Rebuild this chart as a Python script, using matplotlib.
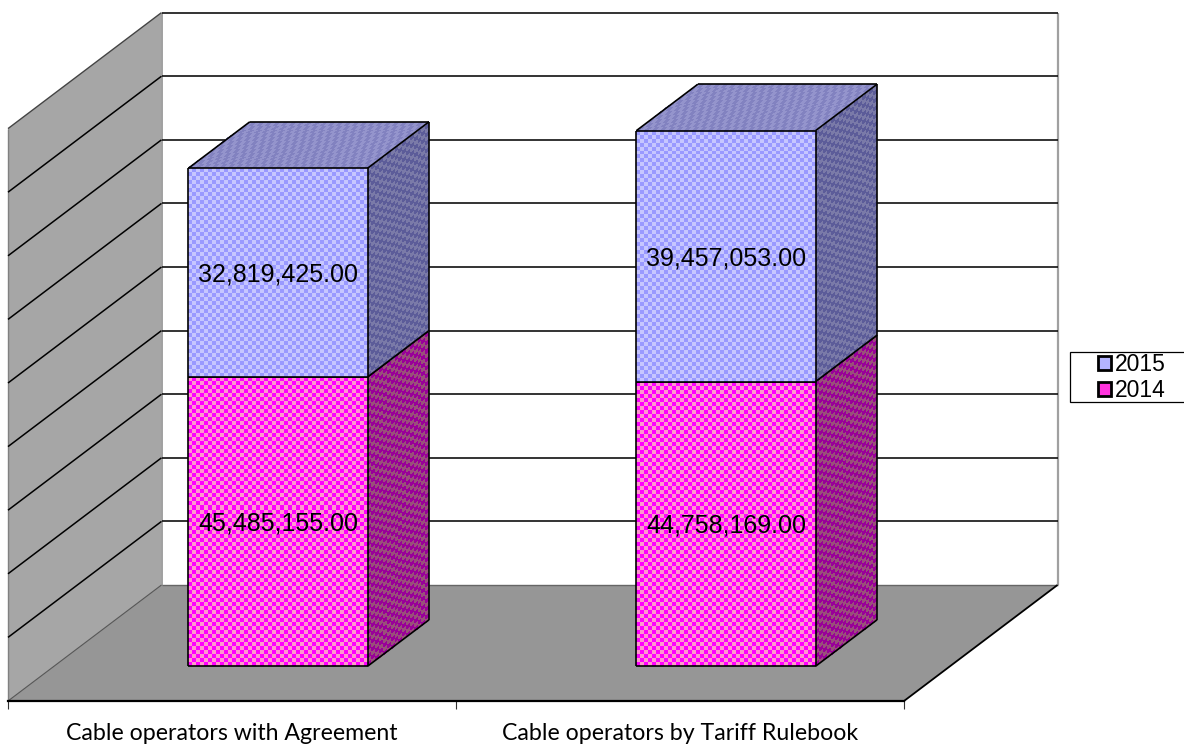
import numpy as np
import matplotlib
matplotlib.use("Agg")
import matplotlib.pyplot as plt
from matplotlib.colors import ListedColormap
from matplotlib.patches import Polygon, Patch, Rectangle

categories = ["Cable operators with Agreement", "Cable operators by Tariff Rulebook"]
years = ["2014", "2015"]
values_2014 = [45485155.0, 44758169.0]
values_2015 = [32819425.0, 39457053.0]
gridlines = [10e6, 20e6, 30e6, 40e6, 50e6, 60e6, 70e6, 80e6, 90e6]

W, H = 1184, 744
L, R, BOT, TOP = 8, 904, 701, 128.6
DX, DY = 153.5, 116.0
YMAX = 90e6
PX_PER_CAT = (R - L) / 2
PX_PER_V = (BOT - TOP) / YMAX

plt.rcParams['font.family'] = ['Liberation Sans', 'DejaVu Sans']
fig = plt.figure(figsize=(W / 100, H / 100), dpi=100, facecolor='white')
ax = fig.add_axes([L / W, (H - BOT) / H, (R - L) / W, (BOT - TOP) / H])
ax.set_xlim(0, 2)
ax.set_ylim(0, YMAX)
ax.patch.set_visible(False)
for s in ('top', 'left', 'right'):
    ax.spines[s].set_visible(False)
ax.spines['bottom'].set_linewidth(1.6)
ax.spines['bottom'].set_zorder(20)
ax.yaxis.set_visible(False)
ax.set_xticks([0, 1, 2])
ax.set_xticklabels([])
ax.tick_params(axis='x', length=6, width=0.8, color='#333333')


def proj(c, v, d):
    """category position, value, depth (0..1) -> axes data coordinates"""
    return c + d * DX / PX_PER_CAT, v + d * DY / PX_PER_V


def poly(pts, **kw):
    xy = [proj(*p) for p in pts]
    ax.add_patch(Polygon(xy, closed=True, clip_on=False, **kw))


def line(p0, p1, **kw):
    a, b = proj(*p0), proj(*p1)
    ax.plot([a[0], b[0]], [a[1], b[1]], clip_on=False, solid_capstyle='butt', **kw)


# walls and floor
poly([(0, 0, 1), (2, 0, 1), (2, YMAX, 1), (0, YMAX, 1)], fc='white', ec='none', zorder=1)
poly([(0, 0, 0), (0, 0, 1), (0, YMAX, 1), (0, YMAX, 0)], fc='#a6a6a6', ec='none', zorder=1)
poly([(0, 0, 0), (2, 0, 0), (2, 0, 1), (0, 0, 1)], fc='#969696', ec='none', zorder=2)
line((0, 0, 1), (0, YMAX, 1), color='#a0a0a0', lw=1.4, zorder=3)
line((0, 0, 0), (0, YMAX, 0), color='#808080', lw=1.0, zorder=3)
line((2, 0, 1), (2, YMAX, 1), color='#a0a0a0', lw=1.6, zorder=3)
line((0, 0, 0), (0, 0, 1), color='#555555', lw=0.8, zorder=3)
line((0, 0, 1), (2, 0, 1), color='#666666', lw=1.0, zorder=3)
line((2, 0, 0), (2, 0, 1), color='black', lw=1.3, zorder=3)
line((0, YMAX, 0), (0, YMAX, 1), color='#444444', lw=1.0, zorder=3)
for g in gridlines:
    line((0, g, 1), (2, g, 1), color='#111111', lw=1.2, zorder=3)
    if g < YMAX:
        line((0, g, 0), (0, g, 1), color='black', lw=1.1, zorder=3)


def checker(corner, du, dv, n_u, n_v, colors, z):
    """Checkered quad: corner + i*du/n_u + j*dv/n_v in (c, v, d) space"""
    X = np.zeros((n_v + 1, n_u + 1))
    Y = np.zeros_like(X)
    for j in range(n_v + 1):
        for i in range(n_u + 1):
            p = [corner[k] + du[k] * i / n_u + dv[k] * j / n_v for k in range(3)]
            X[j, i], Y[j, i] = proj(*p)
    C = np.indices((n_v, n_u)).sum(axis=0) % 2
    ax.pcolormesh(X, Y, C, cmap=ListedColormap(colors), shading='flat',
                  antialiased=False, clip_on=False, zorder=z, vmin=0, vmax=1)


BAR_W = 0.4
D0, D1 = 0.3, 0.7
FACE = {
    "2014": dict(front=['#ff00ff', '#ff99cc'], side=['#990099', '#99507a'], top=['#a050a0', '#a060a0']),
    "2015": dict(front=['#9999ff', '#c6c6ff'], side=['#5c5c99', '#7a7aa8'], top=['#8282c0', '#9494cc']),
}


def bar_px_cells(v):
    return max(2, int(round(v * PX_PER_V / 4)))


def draw_bar(i, base, val, year, z):
    c0 = i + 0.5 - BAR_W / 2
    c1 = c0 + BAR_W
    t = base + val
    w_cells = int(round(BAR_W * PX_PER_CAT / 4))
    n_v = bar_px_cells(val)
    f = FACE[year]
    dd = D1 - D0
    # front
    checker((c0, base, D0), (BAR_W, 0, 0), (0, val, 0), w_cells, n_v, f['front'], z)
    # side
    checker((c1, base, D0), (0, 0, dd), (0, val, 0), 16, n_v, f['side'], z)
    # top
    checker((c0, t, D0), (BAR_W, 0, 0), (0, 0, dd), w_cells, 12, f['top'], z)
    ek = dict(color='black', lw=1.2, zorder=z + 1)
    for a, b in [((c0, base, D0), (c1, base, D0)), ((c1, base, D0), (c1, t, D0)),
                 ((c1, t, D0), (c0, t, D0)), ((c0, t, D0), (c0, base, D0)),
                 ((c1, base, D0), (c1, base, D1)), ((c1, base, D1), (c1, t, D1)),
                 ((c1, t, D0), (c1, t, D1)), ((c0, t, D0), (c0, t, D1)),
                 ((c0, t, D1), (c1, t, D1))]:
        line(a, b, **ek)
    cx, cy = proj((c0 + c1) / 2, base + val / 2, D0)
    ax.annotate(f"{val:,.2f}", xy=(cx, cy), xytext=(0, -2), textcoords='offset pixels',
                ha='center', va='center', fontsize=18, color='black', zorder=z + 2,
                annotation_clip=False)


for i in range(len(categories)):
    draw_bar(i, 0, values_2014[i], "2014", 5)
    draw_bar(i, values_2014[i], values_2015[i], "2015", 8)

# category labels
for i, cat in enumerate(categories):
    ax.annotate(cat, xy=(i + 0.5, 0), xytext=(0, -39), textcoords='offset pixels',
                ha='center', va='baseline', fontsize=16.7, family=['Lato', 'DejaVu Sans'],
                color='black', annotation_clip=False)

# legend
fig.add_artist(Rectangle((1069.5 / W, (H - 401.5) / H), 130 / W, 49.5 / H, transform=fig.transFigure,
                         fc='white', ec='black', lw=0.9, zorder=1))
handles = [Patch(fc='#b4b4ff', ec='black', lw=2.0), Patch(fc='#ff33dd', ec='black', lw=2.0)]
leg = fig.legend(handles, ["2015", "2014"], loc='center left',
                 bbox_to_anchor=(1097.5 / W, (H - 377.5) / H), frameon=False, fontsize=16.5,
                 handlelength=0.58, handleheight=0.58, handletextpad=0.2, labelspacing=0.12,
                 borderpad=0, borderaxespad=0)
leg.set_zorder(5)

fig.savefig("out.png", dpi=100)
